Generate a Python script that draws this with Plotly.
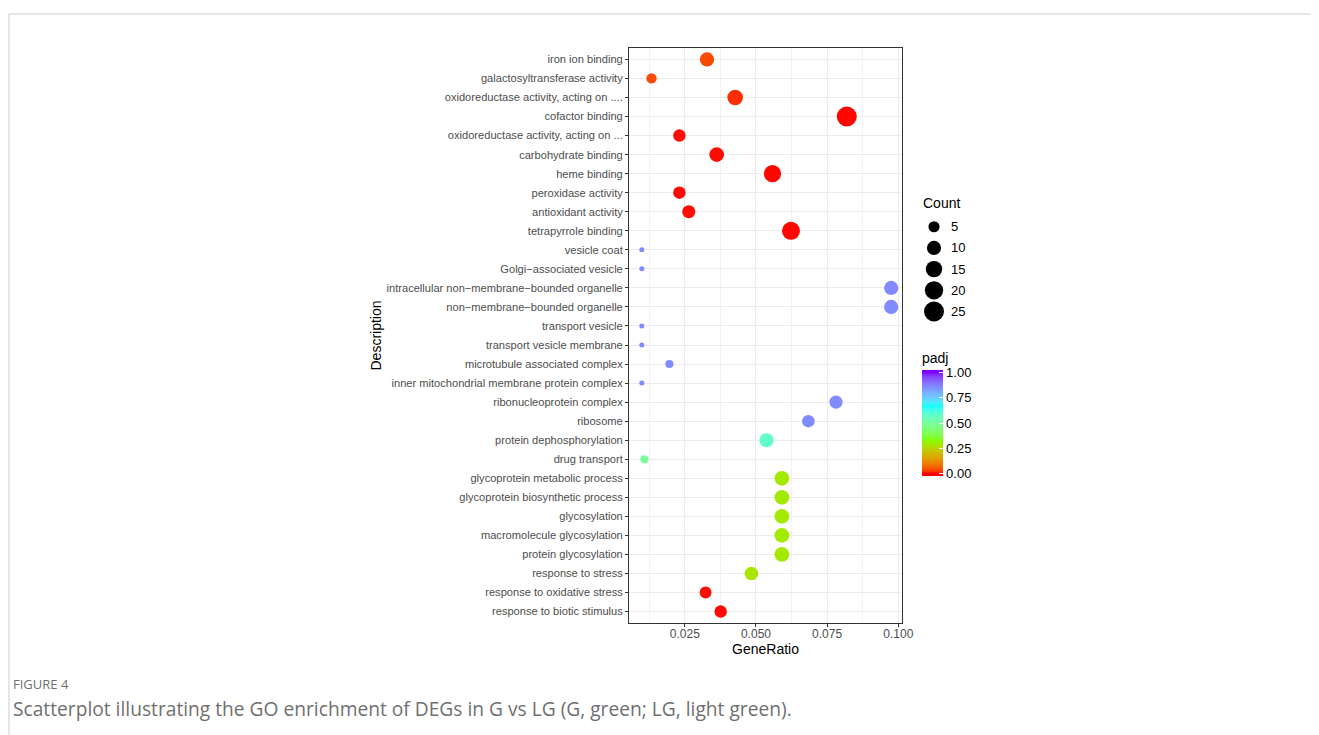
import plotly.graph_objects as go

# ---------------- data ----------------
descriptions = [
    "iron ion binding",
    "galactosyltransferase activity",
    "oxidoreductase activity, acting on ....",
    "cofactor binding",
    "oxidoreductase activity, acting on ...",
    "carbohydrate binding",
    "heme binding",
    "peroxidase activity",
    "antioxidant activity",
    "tetrapyrrole binding",
    "vesicle coat",
    "Golgi\u2212associated vesicle",
    "intracellular non\u2212membrane\u2212bounded organelle",
    "non\u2212membrane\u2212bounded organelle",
    "transport vesicle",
    "transport vesicle membrane",
    "microtubule associated complex",
    "inner mitochondrial membrane protein complex",
    "ribonucleoprotein complex",
    "ribosome",
    "protein dephosphorylation",
    "drug transport",
    "glycoprotein metabolic process",
    "glycoprotein biosynthetic process",
    "glycosylation",
    "macromolecule glycosylation",
    "protein glycosylation",
    "response to stress",
    "response to oxidative stress",
    "response to biotic stimulus",
]
gene_ratio = [0.0328, 0.0133, 0.0427, 0.0819, 0.0231, 0.0362, 0.0558, 0.0231, 0.0264, 0.0623,
              0.0099, 0.0099, 0.0975, 0.0975, 0.0099, 0.0099, 0.0196, 0.0099, 0.0781, 0.0684,
              0.0537, 0.0108, 0.0591, 0.0591, 0.0591, 0.0591, 0.0591, 0.0484, 0.0323, 0.0376]
counts = [10, 4, 13, 25, 7, 11, 17, 7, 8, 19,
          1, 1, 10, 10, 1, 1, 2, 1, 8, 7,
          10, 2, 11, 11, 11, 11, 11, 9, 6, 7]
padj = [0.035, 0.035, 0.015, 0.002, 0.004, 0.003, 0.002, 0.003, 0.004, 0.002,
        0.86, 0.86, 0.86, 0.86, 0.86, 0.86, 0.86, 0.86, 0.86, 0.86,
        0.57, 0.50, 0.29, 0.29, 0.29, 0.29, 0.29, 0.28, 0.004, 0.003]
x_ticks = [0.025, 0.050, 0.075, 0.100]
x_ticklabels = ["0.025", "0.050", "0.075", "0.100"]
count_breaks = [5, 10, 15, 20, 25]
padj_ticks = [0.0, 0.25, 0.5, 0.75, 1.0]
padj_ticklabels = ["0.00", "0.25", "0.50", "0.75", "1.00"]
rainbow4 = ["#FF0000", "#80FF00", "#00FFFF", "#8000FF"]

# ---------------- helpers ----------------
OFF = 8  # page body margin of the html page
W, H = 1319 - OFF, 735 - OFF
PL, PT = 629, 48          # plot-area top-left on screen
PW, PH = 371, 575         # paper area width / height
ML, MT = PL - OFF, PT - OFF
MR = W - ML - PW
MB = H - MT - PH


def px_x(p):
    return (p - PL) / PW


def px_y(p):
    return 1 - (p - PT) / PH


def hex2rgb(h):
    h = h.lstrip("#")
    return [int(h[i:i + 2], 16) / 255 for i in (0, 2, 4)]


def to_lin(c):
    return c / 12.92 if c <= 0.04045 else ((c + 0.055) / 1.055) ** 2.4


def from_lin(c):
    v = 12.92 * c if c <= 0.0031308 else 1.055 * c ** (1 / 2.4) - 0.055
    return min(1, max(0, v))


WX, WY, WZ = 0.95047, 1.0, 1.08883


def rgb2lab(rgb):
    r, g, b = [to_lin(c) for c in rgb]
    X = 0.4124 * r + 0.3576 * g + 0.1805 * b
    Y = 0.2126 * r + 0.7152 * g + 0.0722 * b
    Z = 0.0193 * r + 0.1192 * g + 0.9505 * b

    def f(t):
        return t ** (1 / 3) if t > 0.008856 else 7.787 * t + 16 / 116
    fx, fy, fz = f(X / WX), f(Y / WY), f(Z / WZ)
    return [116 * fy - 16, 500 * (fx - fy), 200 * (fy - fz)]


def lab2rgb(lab):
    L, a, b = lab
    fy = (L + 16) / 116
    fx = fy + a / 500
    fz = fy - b / 200

    def fi(t):
        return t ** 3 if t ** 3 > 0.008856 else (t - 16 / 116) / 7.787
    X, Y, Z = WX * fi(fx), WY * fi(fy), WZ * fi(fz)
    r = 3.2406 * X - 1.5372 * Y - 0.4986 * Z
    g = -0.9689 * X + 1.8758 * Y + 0.0415 * Z
    bb = 0.0557 * X - 0.2040 * Y + 1.0570 * Z
    return [from_lin(max(0, c)) for c in (r, g, bb)]


stops_lab = [rgb2lab(hex2rgb(c)) for c in rainbow4]


def pal(v):
    v = min(1, max(0, v))
    n = len(stops_lab) - 1
    i = min(int(v * n), n - 1)
    t = v * n - i
    lab = [stops_lab[i][k] + (stops_lab[i + 1][k] - stops_lab[i][k]) * t for k in range(3)]
    r, g, b = lab2rgb(lab)
    return "rgb(%d,%d,%d)" % (round(r * 255), round(g * 255), round(b * 255))


CMIN, CMAX = -0.5 / 19, 1 + 0.5 / 19
NS = 80
colorscale = []
for k in range(NS + 1):
    s = k / NS
    colorscale.append([s, pal(CMIN + s * (CMAX - CMIN))])


def size_px(c):
    lo, hi = 1, 25
    s = 1 + 5 * (((c - lo) / (hi - lo)) ** 0.5)
    return 2 + 3 * s


FONT = "Liberation Sans, Arial, Helvetica, sans-serif"
CAPFONT = "Open Sans, sans-serif"

fig = go.Figure()
fig.add_trace(go.Scatter(
    x=gene_ratio, y=descriptions, mode="markers",
    marker=dict(
        size=[size_px(c) for c in counts],
        color=padj, colorscale=colorscale, cmin=CMIN, cmax=CMAX,
        line=dict(width=0), opacity=1,
        colorbar=dict(
            x=px_x(922), xanchor="left", xpad=0,
            y=px_y(476), yanchor="bottom", ypad=0,
            len=107 + 20, lenmode="pixels", thickness=21, outlinewidth=0,
            tickvals=padj_ticks, ticktext=padj_ticklabels,
            ticks="inside", ticklen=4, tickcolor="white",
            tickfont=dict(family=FONT, size=13, color="black"),
            title=dict(text="padj", side="top", font=dict(family=FONT, size=14, color="black")),
        ),
    ),
    showlegend=False, hoverinfo="x+y",
))

# Count size legend
fig.add_trace(go.Scatter(
    x=[934] * len(count_breaks), y=list(range(len(count_breaks))),
    xaxis="x2", yaxis="y2", mode="markers",
    marker=dict(size=[size_px(c) for c in count_breaks], color="black",
                line=dict(width=0), opacity=1),
    showlegend=False, hoverinfo="skip",
))

annotations = []
for i, c in enumerate(count_breaks):
    annotations.append(dict(x=949, y=i, xref="x2", yref="y2", text=str(c), showarrow=False,
                            xanchor="left", yanchor="middle",
                            font=dict(family=FONT, size=13, color="black")))
annotations.append(dict(x=921, y=-1.12, xref="x2", yref="y2", text="Count", showarrow=False,
                        xanchor="left", yanchor="middle",
                        font=dict(family=FONT, size=14, color="black")))

# caption
annotations.append(dict(x=px_x(11), y=px_y(684), xref="paper", yref="paper", text="FIGURE 4",
                        showarrow=False, xanchor="left", yanchor="middle",
                        font=dict(family=CAPFONT, size=13, color="#6f6f6f")))
annotations.append(dict(x=px_x(11), y=px_y(708), xref="paper", yref="paper",
                        text="Scatterplot illustrating the GO enrichment of DEGs in G vs LG (G, green; LG, light green).",
                        showarrow=False, xanchor="left", yanchor="middle",
                        font=dict(family=CAPFONT, size=19.2, color="#6f6f6f")))

shapes = [
    dict(type="line", xref="paper", yref="paper", x0=px_x(9), x1=px_x(1330), y0=px_y(14), y1=px_y(14),
         line=dict(color="#dddddd", width=1.5)),
    dict(type="line", xref="paper", yref="paper", x0=px_x(9), x1=px_x(9), y0=px_y(14), y1=px_y(745),
         line=dict(color="#dddddd", width=1.5)),
]

n = len(descriptions)
fig.update_layout(
    width=W, height=H,
    margin=dict(l=ML, r=MR, t=MT, b=MB, autoexpand=False),
    paper_bgcolor="white", plot_bgcolor="white",
    font=dict(family=FONT),
    xaxis=dict(
        domain=[0, 273 / PW], range=[0.0054, 0.1013],
        tickvals=x_ticks, ticktext=x_ticklabels,
        ticks="outside", ticklen=3, tickcolor="#333333", tickwidth=1,
        ticklabelstandoff=-3,
        tickfont=dict(family=FONT, size=12, color="#4D4D4D"),
        showgrid=True, gridcolor="#EBEBEB", gridwidth=1,
        minor=dict(tickvals=[0.0125, 0.0375, 0.0625, 0.0875], showgrid=True,
                   gridcolor="#F2F2F2", gridwidth=0.6, ticks=""),
        showline=True, linecolor="#333333", linewidth=1, mirror=True,
        zeroline=False,
        title=dict(text="GeneRatio", font=dict(family=FONT, size=14, color="black"), standoff=0),
    ),
    yaxis=dict(
        type="category", categoryorder="array", categoryarray=descriptions,
        range=[n - 1 + 0.6, -0.6],
        ticks="outside", ticklen=3, tickcolor="#333333", tickwidth=1,
        tickfont=dict(family=FONT, size=11.1, color="#4D4D4D"),
        showgrid=True, gridcolor="#EBEBEB", gridwidth=1,
        showline=True, linecolor="#333333", linewidth=1, mirror=True,
        zeroline=False,
        title=dict(text="Description", font=dict(family=FONT, size=14, color="black"), standoff=1),
    ),
    xaxis2=dict(domain=[px_x(911), 1.0], range=[911, 911 + PW * (1 - px_x(911))], anchor="y2",
                visible=False, fixedrange=True),
    yaxis2=dict(domain=[px_y(330), px_y(190)], range=[4.87, -1.73], anchor="x2", visible=False,
                fixedrange=True),
    annotations=annotations,
    shapes=shapes,
)

fig.write_html("out.html")
